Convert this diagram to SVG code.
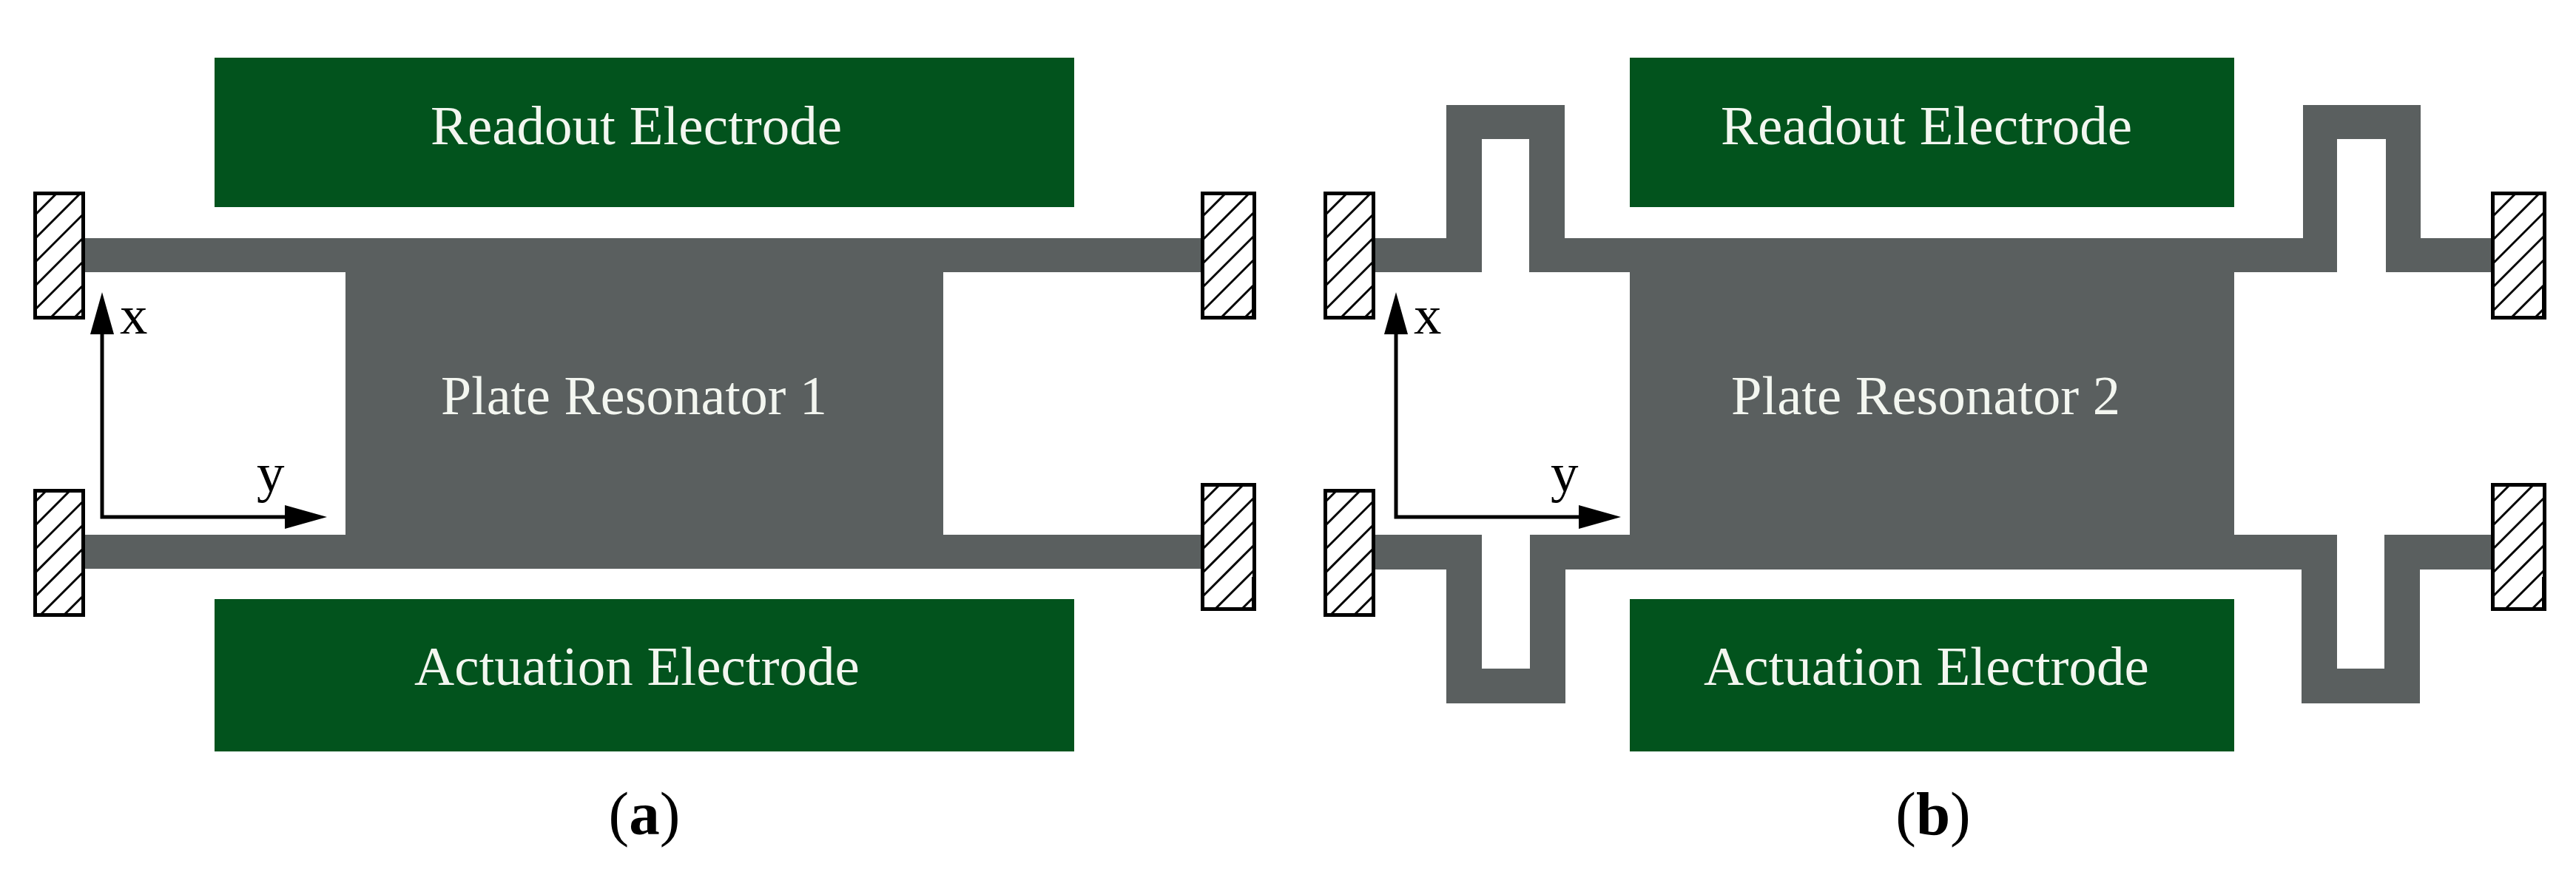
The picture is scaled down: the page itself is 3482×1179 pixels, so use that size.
<svg xmlns="http://www.w3.org/2000/svg" xmlns:xlink="http://www.w3.org/1999/xlink" width="3482" height="1179" viewBox="0 0 3482 1179">
<style>
.electrode{fill:#02531d}
.body{fill:#5a5f5f}
.lbl{font-family:"Liberation Serif","Times New Roman",serif;font-size:75px;fill:#f3f6f0}
.axis-lbl{font-family:"Liberation Serif","Times New Roman",serif;font-size:75px;fill:#000}
.cap{font-family:"Liberation Serif","Times New Roman",serif;font-size:83px;fill:#000;text-anchor:middle}
.cap tspan{font-weight:bold}
.frame{fill:none;stroke:#000;stroke-width:5}
.hatch{fill:none;stroke:#000;stroke-width:3}
.axis{fill:none;stroke:#000;stroke-width:5;marker-start:url(#head);marker-end:url(#head)}
</style>
<defs>
<marker id="head" markerUnits="userSpaceOnUse" markerWidth="58" markerHeight="32" refX="0" refY="16" orient="auto-start-reverse"><path d="M0 0L57 16L0 32Z" fill="#000"/></marker>
<clipPath id="c70"><rect width="70" height="173"/></clipPath>
<clipPath id="c75"><rect width="75" height="173"/></clipPath>
<g id="aUL"><g clip-path="url(#c70)"><path class="hatch" d="M0 34L34 0M0 66L66 0M0 98L98 0M0 130L130 0M0 162L162 0M0 194L194 0M0 226L226 0"/></g><rect class="frame" x="2.5" y="2.5" width="65" height="168"/></g>
<g id="aLL"><g clip-path="url(#c70)"><path class="hatch" d="M0 20L20 0M0 52L52 0M0 84L84 0M0 116L116 0M0 148L148 0M0 180L180 0M0 212L212 0"/></g><rect class="frame" x="2.5" y="2.5" width="65" height="168"/></g>
<g id="aUR"><g clip-path="url(#c75)"><path class="hatch" d="M0 36L36 0M0 68L68 0M0 100L100 0M0 132L132 0M0 164L164 0M0 198L198 0M0 230L230 0"/></g><rect class="frame" x="2.5" y="2.5" width="70" height="168"/><rect x="69" y="130" width="6" height="43" fill="#000"/></g>
<g id="aLR"><g clip-path="url(#c75)"><path class="hatch" d="M0 28L28 0M0 60L60 0M0 92L92 0M0 124L124 0M0 156L156 0M0 190L190 0M0 226L226 0"/></g><rect class="frame" x="2.5" y="2.5" width="70" height="168"/><rect x="69" y="127" width="6" height="46" fill="#000"/></g>
</defs>
<rect width="3482" height="1179" fill="#fff"/>

<g id="panel-a">
<g id="resonator-1"><path class="body" d="M115 322H1623V368H1275V723H1623V769H115V723H467V368H115Z"/><text class="lbl" x="596" y="560" textLength="522" lengthAdjust="spacingAndGlyphs">Plate Resonator 1</text></g>
<g id="readout-electrode-1"><rect class="electrode" x="290" y="78" width="1162" height="202"/><text class="lbl" x="582" y="195">Readout Electrode</text></g>
<g id="actuation-electrode-1"><rect class="electrode" x="290" y="810" width="1162" height="206"/><text class="lbl" x="560" y="926">Actuation Electrode</text></g>
<use id="anchor-a1" href="#aUL" xlink:href="#aUL" x="45" y="259"/>
<use id="anchor-a2" href="#aLL" xlink:href="#aLL" x="45" y="661"/>
<use id="anchor-a3" href="#aUR" xlink:href="#aUR" x="1623" y="259"/>
<use id="anchor-a4" href="#aLR" xlink:href="#aLR" x="1623" y="653"/>
<g id="labels-a"><text class="axis-lbl" x="162" y="451">x</text><text class="axis-lbl" x="347" y="664">y</text><text class="cap" x="871" y="1128">(<tspan>a</tspan>)</text></g>
</g>

<g id="panel-b">
<g id="resonator-2"><path class="body" d="M1859 322H1955V142H2115V322H3113V142H3272V322H3367V368H3225V188H3159V368H3020V723H3159V904H3223V723H3367V770H3271V951H3111V770H2116V951H1955V770H1859V723H2003V904H2068V723H2203V368H2067V188H2003V368H1859Z"/><text class="lbl" x="2340" y="560" textLength="526" lengthAdjust="spacingAndGlyphs">Plate Resonator 2</text></g>
<g id="readout-electrode-2"><rect class="electrode" x="2203" y="78" width="817" height="202"/><text class="lbl" x="2326" y="195">Readout Electrode</text></g>
<g id="actuation-electrode-2"><rect class="electrode" x="2203" y="810" width="817" height="206"/><text class="lbl" x="2303" y="926">Actuation Electrode</text></g>
<use id="anchor-b1" href="#aUL" xlink:href="#aUL" x="1789" y="259"/>
<use id="anchor-b2" href="#aLL" xlink:href="#aLL" x="1789" y="661"/>
<use id="anchor-b3" href="#aUR" xlink:href="#aUR" x="3367" y="259"/>
<use id="anchor-b4" href="#aLR" xlink:href="#aLR" x="3367" y="653"/>
<g id="labels-b"><text class="axis-lbl" x="1911" y="451">x</text><text class="axis-lbl" x="2096" y="664">y</text><text class="cap" x="2613" y="1128">(<tspan>b</tspan>)</text></g>
</g>

<g id="connectors">
<path class="axis" d="M138 452V699H385"/>
<path class="axis" d="M1887 452V699H2134"/>
</g>
</svg>
